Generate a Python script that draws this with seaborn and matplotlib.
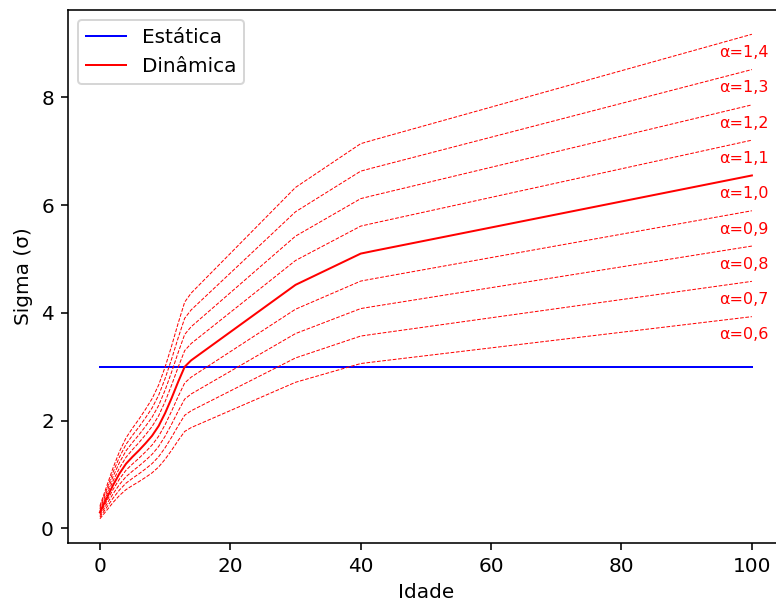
import matplotlib
matplotlib.use('Agg')
import matplotlib.pyplot as plt
import numpy as np
import pandas as pd
import seaborn as sns

# Ages and dynamic sigma (alpha = 1.0)
idade = [0, 1, 2, 3, 4, 5, 6, 7, 8, 9, 10, 11, 12, 13, 14, 30, 40, 42, 100]
sigma_din = [0.30, 0.55, 0.80, 1.02, 1.20, 1.33, 1.45, 1.58, 1.72, 1.90,
             2.14, 2.42, 2.72, 3.00, 3.12, 4.52, 5.10, 5.15, 6.55]
sigma_est = 3.0
alphas = [0.6, 0.7, 0.8, 0.9, 1.1, 1.2, 1.3, 1.4]
rotulos = ['α=0,6', 'α=0,7', 'α=0,8', 'α=0,9', 'α=1,0', 'α=1,1', 'α=1,2', 'α=1,3', 'α=1,4']
alphas_rot = [0.6, 0.7, 0.8, 0.9, 1.0, 1.1, 1.2, 1.3, 1.4]

df = pd.DataFrame({'idade': idade, 'dinamica': sigma_din})
df['estatica'] = sigma_est

DPI = 144
fig = plt.figure(figsize=(776 / DPI, 603 / DPI), dpi=DPI)
# axes runs past the right edge of the picture, as in the original
ax = fig.add_axes([0.0876, 0.0995, 0.9645, 0.8839])

sns.lineplot(data=df, x='idade', y='estatica', color='blue', lw=1.0, label='Estática', ax=ax)
sns.lineplot(data=df, x='idade', y='dinamica', color='red', lw=1.0, label='Dinâmica', ax=ax)

# dashed curves scaled by alpha
for a in alphas:
    sns.lineplot(x=df['idade'], y=df['dinamica'] * a, color='red', lw=0.5,
                 linestyle='--', ax=ax, legend=False)

for a, r in zip(alphas_rot, rotulos):
    ax.text(95, a * sigma_din[-1] - 0.34, r, color='red', fontsize=8,
            ha='left', va='center')

ax.set_xlim(-4.9, 109.9)
ax.set_ylim(-0.27, 9.62)
ax.set_xlabel('Idade')
ax.set_ylabel('Sigma (σ)')
ax.xaxis.set_label_coords(0.5 * (110 / 114.8) - 0.0, -0.075)
ax.legend(loc='upper left')

fig.savefig('out.png', dpi=DPI)
